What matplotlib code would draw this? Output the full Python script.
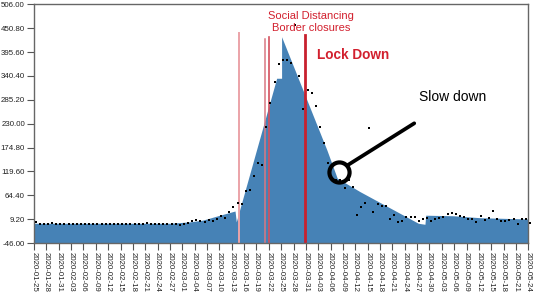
import matplotlib.pyplot as plt
import numpy as np
import pandas as pd

plt.rcParams['font.family'] = ['Liberation Sans', 'DejaVu Sans']

# daily observed values, 2020-01-25 .. 2020-05-24
dates = pd.date_range('2020-01-25', '2020-05-24', freq='D')
observed = [
    3, -2, -2, -1, 1, -2, -2, -2, -1, -2,
    -2, -2, -2, -2, -2, -2, -2, -2, -2, -2,
    -2, -2, -2, -2, -2, -2, -2, 1, -1, -2,
    -2, -1, -1, -1, -2.6, -3.4, -1.9, -0.4, 4.9, 7.2,
    4.9, 1.9, 7.2, 4.9, 8.8, 16.5, 11.2, 26.4, 36.6, 47.2,
    44.2, 75, 76.6, 109.6, 138.3, 134.4, 221.6, 277.1, 325.6, 367.3,
    377.2, 377.2, 369.6, 458.1, 340.9, 263.2, 307.8, 301.6, 270.8, 221.6,
    186, 138.3, 101, 99, 99, 81.9, 100, 84.2, 18.8, 38,
    45.8, 220.6, 26.4, 44.2, 38.9, 40, 10.4, 18.8, 3.3, 4.9,
    13.4, 14.8, 14.8, 4.4, 9, 12.3, 4.9, 9.5, 11.1, 14.8,
    21, 22.7, 21, 17.1, 13.4, 10.2, 9.5, 3.3, 16.5, 7.2,
    12.6, 28, 10.2, 5.6, 4.9, 7.2, 8.8, -2, 9.5, 9.5, -0.4,
]

# model curve (day offset from 2020-01-25, value)
model_days = [0, 33, 38, 41, 45, 48.8, 49.1, 58.9, 60.1, 60.1, 71.1, 73.6,
              79.1, 93.3, 94.9, 95.1, 101.8, 108.3, 113.9, 120]
model_vals = [-0.4, -0.4, 3, 7, 18, 28, 3, 335, 335, 431, 169, 104,
              73, -0.4, -2.7, 18.3, 17, 12.5, 11.1, 9.5]

# event markers: day, top value
event_days = [49.8, 56.1, 57.05, 65.9]
event_tops = [439, 426, 431, 436]
event_colors = ['#eba3a8', '#d97883', '#d4505e', '#c8202e']
event_widths = [1.4, 1.1, 1.2, 2.0]

ymin, ymax = -46.0, 506.0
yticks = np.linspace(ymin, ymax, 11)
xticks = np.arange(0, len(dates), 3)

fig = plt.figure(figsize=(5.34, 2.93), dpi=100)
ax = fig.add_axes([0.0637, 0.1706, 0.9257, 0.8147])

ax.fill_between(model_days, model_vals, ymin, color='#4682b6', lw=0, zorder=1)

for d, top, c, w in zip(event_days, event_tops, event_colors, event_widths):
    ax.plot([d, d], [ymin, top], color=c, lw=w, zorder=2)

days = np.arange(len(dates))
ax.plot(days + 0.4, observed, 's', color='black', ms=1.8, mew=0, zorder=3, clip_on=False)

# slow down annotation
ax.plot([74.1], [118.9], 'o', mfc='none', mec='black', ms=14.5, mew=3.0, zorder=4)
ax.plot([76.2, 92.3], [134.4, 230.8], color='black', lw=2.7, solid_capstyle='round', zorder=4)
ax.text(101.6, 292, 'Slow down', fontsize=10, ha='center', va='center', color='black')

red = '#d2202e'
ax.text(67.3, 479, 'Social Distancing', fontsize=8, ha='center', va='center', color=red)
ax.text(67.3, 452, 'Border closures', fontsize=8, ha='center', va='center', color=red)
ax.text(77.5, 389, 'Lock Down', fontsize=9.8, fontweight='bold', ha='center', va='center', color=red)

ax.set_xlim(0, 120)
ax.set_ylim(ymin, ymax)
ax.set_yticks(yticks)
ax.set_yticklabels(['%.2f' % v for v in yticks])
ax.set_xticks(xticks)
ax.set_xticklabels([dates[i].strftime('%Y-%m-%d') for i in xticks], rotation=-90)

ax.tick_params(axis='both', labelsize=5.7, length=5, width=0.8, color='#555555',
               labelcolor='#222222', pad=1.5)
for s in ax.spines.values():
    s.set_color('#666666')
    s.set_linewidth(1.0)

fig.savefig('out.png', dpi=100)
